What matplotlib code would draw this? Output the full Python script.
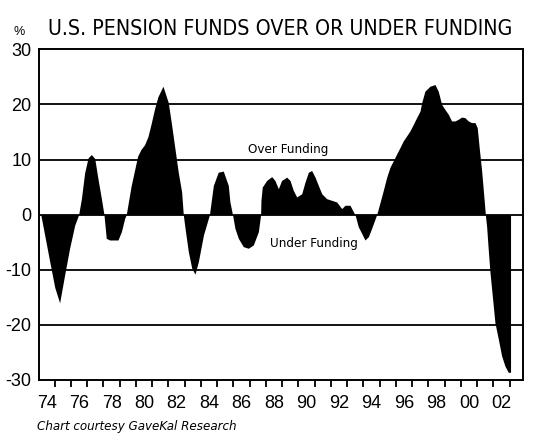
import matplotlib
matplotlib.use("Agg")
import matplotlib.pyplot as plt
from matplotlib import font_manager
import numpy as np

plt.rcParams['font.family'] = ['Liberation Sans', 'DejaVu Sans']

# funding level (% over / under)
years = [
    1973.64, 1973.88, 1974.19, 1974.50, 1974.80, 1975.11, 1975.42, 1975.73, 1975.97,
    1976.14, 1976.34, 1976.55, 1976.75, 1976.96, 1977.16, 1977.37, 1977.53,
    1977.67, 1977.88, 1978.39, 1978.60, 1978.80, 1978.90,
    1979.20, 1979.60, 1979.80, 1980.03, 1980.24, 1980.44, 1980.65, 1980.85, 1981.16,
    1981.49, 1981.70, 1981.90, 1982.10, 1982.31, 1982.41,
    1982.52, 1982.72, 1982.93, 1983.13, 1983.34, 1983.65, 1984.02,
    1984.26, 1984.56, 1984.87, 1985.18, 1985.28, 1985.44,
    1985.59, 1985.80, 1986.10, 1986.41, 1986.72, 1987.03, 1987.17,
    1987.19, 1987.27, 1987.54, 1987.85, 1988.05, 1988.26, 1988.46, 1988.77, 1988.98,
    1989.18, 1989.39, 1989.70, 1989.90, 1990.11, 1990.31, 1990.52, 1990.72, 1990.93,
    1991.23, 1991.54, 1991.85, 1992.16, 1992.36, 1992.67, 1992.88, 1992.98,
    1993.18, 1993.39, 1993.59, 1993.80, 1994.00, 1994.31,
    1994.50, 1994.72, 1994.93, 1995.13, 1995.34, 1995.54, 1995.75, 1995.95,
    1996.16, 1996.36, 1996.57, 1996.77, 1996.98, 1997.08, 1997.28, 1997.59, 1997.90,
    1998.10, 1998.31, 1998.51, 1998.72, 1998.92, 1999.13, 1999.33, 1999.54, 1999.74,
    1999.95, 2000.15, 2000.36, 2000.50, 2000.62, 2000.77, 2000.91, 2001.00,
    2001.08, 2001.18, 2001.28, 2001.39, 2001.49, 2001.59, 2001.80, 2002.00,
    2002.21, 2002.41, 2002.55,
]
funding = [
    0.0, -3.7, -8.5, -13.2, -16.0, -10.9, -6.0, -1.9, 0.0,
    2.9, 7.6, 10.3, 10.9, 10.2, 6.5, 2.9, 0.0,
    -4.3, -4.6, -4.6, -3.1, -0.7, 0.0,
    5.2, 10.6, 11.8, 12.7, 14.2, 16.6, 19.3, 21.4, 23.3,
    20.3, 16.1, 11.9, 7.7, 4.1, 0.0,
    -2.5, -6.7, -9.7, -10.8, -8.5, -3.7, 0.0,
    5.3, 7.7, 7.9, 5.3, 2.3, 0.0,
    -2.5, -4.3, -5.8, -6.1, -5.5, -3.1, 0.0,
    2.6, 5.0, 6.2, 6.9, 6.2, 4.7, 6.2, 6.8, 6.2,
    4.4, 3.2, 3.8, 5.9, 7.7, 8.0, 6.8, 5.3, 3.8,
    2.9, 2.6, 2.3, 1.1, 1.7, 1.7, 0.5, 0.0,
    -2.2, -3.4, -4.6, -4.0, -2.5, 0.0,
    2.0, 4.4, 6.8, 8.6, 9.8, 11.0, 12.2, 13.4,
    14.3, 15.2, 16.4, 17.6, 18.8, 20.3, 22.4, 23.3, 23.6,
    22.4, 20.0, 19.1, 18.2, 17.0, 17.0, 17.3, 17.7, 17.6,
    17.0, 16.7, 16.7, 15.8, 12.2, 8.0, 3.2, 0.0,
    -2.2, -6.4, -10.3, -13.6, -16.6, -19.6, -22.6, -25.6,
    -27.5, -28.6, -28.6,
]

label_years = list(range(1974, 2003, 2))
label_text = ["%02d" % (y % 100) for y in label_years]
y_ticks = [-30, -20, -10, 0, 10, 20, 30]


def find_font(italic=False):
    # look for a narrow/condensed face, the original uses condensed Helvetica
    for f in font_manager.fontManager.ttflist:
        low = f.fname.lower()
        if ("condensed" in low or "narrow" in low or f.stretch in ("condensed", 375)) \
                and "bold" not in low and "light" not in low:
            is_it = f.style in ("italic", "oblique")
            if is_it == italic:
                return font_manager.FontProperties(fname=f.fname)
    return None


cond = find_font()
cond_it = find_font(italic=True) or cond

fig = plt.figure(figsize=(5.5, 4.46), dpi=100)
ax = fig.add_axes([0.070, 0.148, 0.881, 0.7415])

ax.fill_between(years, 0, funding, color="black", linewidth=0)
for g in [-20, -10, 0, 10, 20]:
    ax.axhline(g, color="black", linewidth=1.3, zorder=3)

ax.set_xlim(1973.5, 2003.32)
ax.set_ylim(-30, 30)

ax.set_yticks(y_ticks)
ax.set_yticklabels([str(v) for v in y_ticks])
ax.tick_params(axis="y", length=0, pad=5, labelsize=13)

ax.set_xticks(label_years)
ax.set_xticklabels(label_text)
ax.set_xticks(np.arange(1974.5, 2003, 1.0), minor=True)
ax.tick_params(axis="x", which="major", length=0, pad=11, labelsize=13)
ax.tick_params(axis="x", which="minor", length=5, width=1.3, direction="out", color="black")

for s in ax.spines.values():
    s.set_linewidth(1.4)
    s.set_color("black")

over = ax.text(1988.88, 11.8, "Over Funding", ha="center", va="center", fontsize=11)
under = ax.text(1990.45, -5.2, "Under Funding", ha="center", va="center", fontsize=11)
title = fig.text(0.087, 0.9215, "U.S. PENSION FUNDS OVER OR UNDER FUNDING",
                 ha="left", va="baseline", fontsize=18)
fig.text(0.035, 0.9215, "%", ha="center", va="baseline", fontsize=9)
footer = fig.text(0.067, 0.036, "Chart courtesy GaveKal Research",
                  ha="left", va="baseline", fontsize=11, style="italic")

if cond is not None:
    for t in (over, under, title):
        t.set_fontproperties(cond.copy())
    footer.set_fontproperties(cond_it.copy())
    over.set_fontsize(11)
    under.set_fontsize(11)
    title.set_fontsize(18)
    footer.set_fontsize(11)
    if cond_it is cond:
        footer.set_style("italic")

# squeeze each text to the width it has in the original
widths = [(title, 465), (footer, 201), (over, 81), (under, 88)]
fig.canvas.draw()
renderer = fig.canvas.get_renderer()
for t, w in widths:
    cur = t.get_window_extent(renderer).width
    if cur > w:
        t.set_fontsize(t.get_fontsize() * w / cur)

fig.savefig("out.png", dpi=100)
